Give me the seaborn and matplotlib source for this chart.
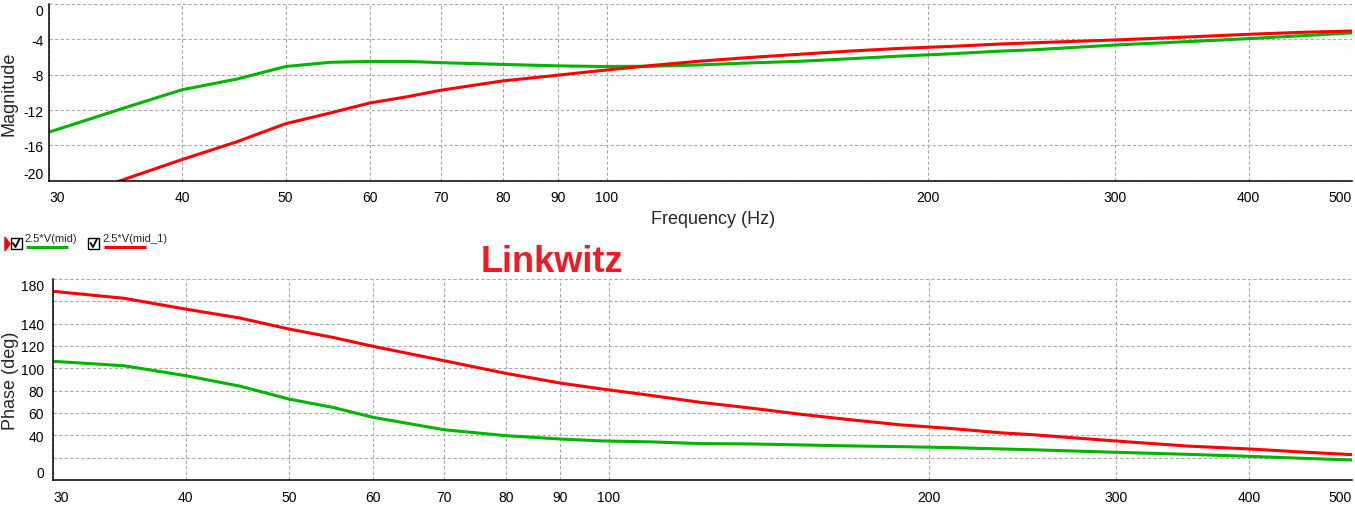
import pandas as pd
import seaborn as sns
import matplotlib.pyplot as plt
from matplotlib.lines import Line2D
from matplotlib.patches import Rectangle, Polygon


# values
freq_mag = [30, 33, 35, 40, 45, 50, 55, 60, 65, 70, 80, 90, 98.5, 110, 122, 136, 152, 169, 188, 210, 234, 250,
            300, 350, 400, 450, 500]
mag_mid = [-14.5, -12.9, -11.9, -9.7, -8.5, -7.08, -6.6, -6.5, -6.5, -6.64, -6.84, -7.0, -7.07, -7.05, -6.9,
           -6.67, -6.48, -6.2, -5.9, -5.64, -5.33, -5.2, -4.64, -4.26, -3.92, -3.58, -3.28]
mag_mid_1 = [-22.8, -21.1, -20.0, -17.6, -15.6, -13.55, -12.35, -11.2, -10.5, -9.75, -8.7, -8.06, -7.55, -6.97,
             -6.48, -6.06, -5.68, -5.33, -5.03, -4.8, -4.53, -4.4, -4.07, -3.74, -3.43, -3.2, -3.06]

freq_phase = [30, 35, 40, 45, 50, 55, 60, 70, 80, 90, 98.5, 110, 122, 136, 152, 169, 188, 210, 234, 250,
              300, 350, 400, 450, 500]
phase_mid = [106.3, 102.3, 93.4, 84.0, 72.5, 65.0, 56.1, 45.0, 39.7, 36.7, 35.0, 34.1, 32.6, 32.3, 31.4,
             30.5, 29.9, 29.0, 27.8, 27.1, 24.8, 23.0, 21.2, 19.4, 17.9]
phase_mid_1 = [169.0, 162.7, 153.0, 145.0, 135.2, 127.7, 119.7, 106.8, 95.5, 86.8, 81.5, 75.5, 69.5, 64.4,
               58.7, 53.9, 49.4, 46.1, 42.2, 40.6, 34.9, 30.4, 27.8, 25.0, 22.7]

trace_names = ['2.5*V(mid)', '2.5*V(mid_1)']
trace_colors = {'2.5*V(mid)': '#00b400', '2.5*V(mid_1)': '#ff0000'}

x_ticks = [30, 40, 50, 60, 70, 80, 90, 100, 200, 300, 400, 500]
x_labels = [str(v) for v in x_ticks]
mag_ticks = [-20, -16, -12, -8, -4, 0]
mag_labels = ['-20', '-16', '-12', '-8', '-4', '0']
phase_ticks = [0, 20, 40, 60, 80, 100, 120, 140, 160, 180]
phase_labels = ['0', '', '40', '60', '80', '100', '120', '140', '', '180']

df_mag = pd.DataFrame({
    'freq': freq_mag + freq_mag,
    'value': mag_mid + mag_mid_1,
    'trace': [trace_names[0]] * len(freq_mag) + [trace_names[1]] * len(freq_mag),
})
df_phase = pd.DataFrame({
    'freq': freq_phase + freq_phase,
    'value': phase_mid + phase_mid_1,
    'trace': [trace_names[0]] * len(freq_phase) + [trace_names[1]] * len(freq_phase),
})

sns.set_style('white')
plt.rcParams['font.family'] = ['Liberation Sans', 'DejaVu Sans']

W, H = 1355, 506
fig = plt.figure(figsize=(W / 100, H / 100), dpi=100)


def fx(x):
    return x / W


def fy(y):
    return 1 - y / H


ax1 = fig.add_axes([fx(49), fy(181.7), 1303 / W, 176.7 / H])
ax2 = fig.add_axes([fx(53), fy(481), 1299 / W, 201 / H])

sns.lineplot(data=df_mag, x='freq', y='value', hue='trace', palette=trace_colors,
             lw=2.2, legend=False, ax=ax1)
sns.lineplot(data=df_phase, x='freq', y='value', hue='trace', palette=trace_colors,
             lw=2.2, legend=False, ax=ax2)


def style(ax, yticks, ylabels, ylim, ypad):
    ax.set_xscale('log')
    ax.set_xlim(30, 500)
    ax.set_ylim(*ylim)
    ax.set_xticks(x_ticks)
    ax.set_xticklabels(x_labels)
    ax.minorticks_off()
    ax.set_yticks(yticks)
    ax.set_yticklabels(ylabels)
    ax.grid(True, color='#a8a8a8', lw=0.8, linestyle=(0, (3, 2)))
    ax.spines[['top', 'right']].set_visible(False)
    for s in ['left', 'bottom']:
        ax.spines[s].set_color('black')
        ax.spines[s].set_linewidth(1.1)
    ax.tick_params(axis='both', direction='out', length=3, width=1, color='black',
                   labelsize=10, labelcolor='black')
    ax.tick_params(axis='x', pad=4)
    ax.tick_params(axis='y', pad=ypad)
    ax.set_xlabel('')
    ax.set_ylabel('')
    xt = ax.xaxis.get_major_ticks()
    xt[0].label1.set_horizontalalignment('left')
    xt[-1].label1.set_horizontalalignment('right')
    yt = ax.yaxis.get_major_ticks()
    yt[0].label1.set_verticalalignment('bottom')
    yt[-1].label1.set_verticalalignment('top')


style(ax1, mag_ticks, mag_labels, (-20, 0), 0.8)
style(ax2, phase_ticks, phase_labels, (0, 180), 3.5)

ax1.set_ylabel('Magnitude', fontsize=13)
ax1.yaxis.set_label_coords(-0.0245, 0.5)
ax1.set_xlabel('Frequency (Hz)', fontsize=13)
ax1.xaxis.set_label_coords(0.51, -0.165)
ax2.set_ylabel('Phase (deg)', fontsize=13)
ax2.yaxis.set_label_coords(-0.0262, 0.5)

# legend row drawn like the simulator's trace list
fig.add_artist(Polygon([[fx(5), fy(238)], [fx(10), fy(245)], [fx(5), fy(252)]],
                       closed=True, color='#ff0000', transform=fig.transFigure))
for bx, tx, name in [(10.5, 24.5, trace_names[0]), (88, 102.5, trace_names[1])]:
    fig.add_artist(Rectangle((fx(bx), fy(250)), 11 / W, 11 / H, fill=False,
                             edgecolor='black', lw=1, transform=fig.transFigure))
    fig.add_artist(Line2D([fx(bx + 2.5), fx(bx + 5), fx(bx + 9)], [fy(244), fy(248), fy(240)],
                          color='black', lw=1.3, transform=fig.transFigure))
    fig.text(fx(tx), fy(242), name, fontsize=8, va='baseline', ha='left')
    fig.add_artist(Line2D([fx(tx + 1.5), fx(tx + 43)], [fy(248), fy(248)],
                          color=trace_colors[name], lw=2.2, solid_capstyle='butt',
                          transform=fig.transFigure))

fig.text(fx(481), fy(272), 'Linkwitz', fontsize=26, fontweight='bold',
         family=['Liberation Sans', 'DejaVu Sans'], color='#ed1c24', va='baseline', ha='left')

fig.savefig('out.png', dpi=100, facecolor='white')
